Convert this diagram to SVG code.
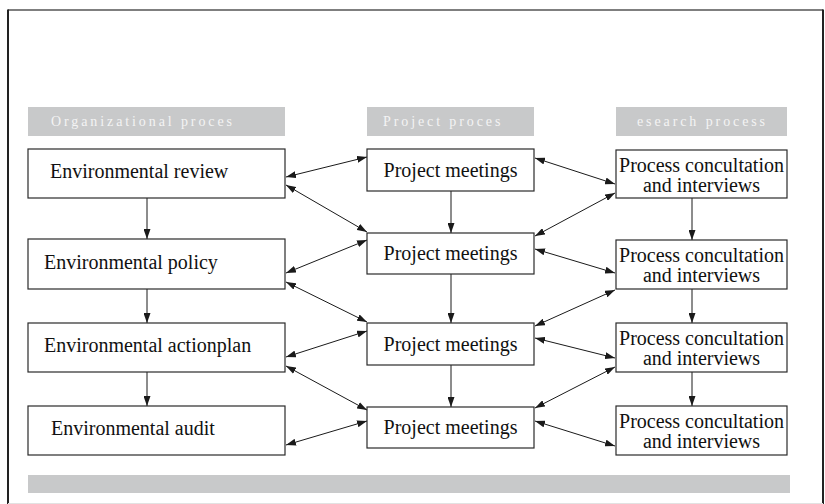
<svg xmlns="http://www.w3.org/2000/svg" width="825" height="504" viewBox="0 0 825 504">
<style>
.frame{stroke:#222;stroke-width:2;fill:none}
.bar{fill:#c8c9ca}
.hdr{font-family:"Liberation Serif","Times New Roman",serif;font-size:14px;fill:#f4f4f4;letter-spacing:2.9px}
.box{fill:#fff;stroke:#2a2a2a;stroke-width:1.2}
.t{font-family:"Liberation Serif","Times New Roman",serif;font-size:20px;fill:#111}
.c{text-anchor:middle}
.edge{stroke:#1a1a1a;stroke-width:1;fill:none}
.one{marker-end:url(#ah)}
.two{marker-start:url(#ah);marker-end:url(#ah)}
</style>
<defs>
<marker id="ah" viewBox="0 0 10 7" refX="10" refY="3.5" markerWidth="10" markerHeight="7" markerUnits="userSpaceOnUse" orient="auto-start-reverse">
<path d="M0,0 L10,3.5 L0,7 z" fill="#1a1a1a"/>
</marker>
</defs>
<rect x="0" y="0" width="825" height="504" fill="#fff"/>
<g id="frame">
<line x1="8" y1="10" x2="823" y2="10" stroke="#555" stroke-width="1.5"/>
<line x1="8" y1="9.5" x2="8" y2="504" class="frame"/>
<line x1="823" y1="9.5" x2="823" y2="504" class="frame"/>
<line x1="8" y1="503.5" x2="823" y2="503.5" stroke="#e2e2e2" stroke-width="1"/>
</g>
<g id="headers">
<rect class="bar" x="28" y="107" width="257" height="29"/>
<text class="hdr" x="51" y="126">Organizational proces</text>
<rect class="bar" x="367" y="107" width="167" height="29"/>
<text class="hdr" x="383" y="126">Project proces</text>
<rect class="bar" x="616" y="107" width="171" height="29"/>
<text class="hdr" x="637" y="126">esearch process</text>
</g>
<g id="footer"><rect class="bar" x="28" y="475" width="762" height="18"/></g>

<g id="connectors">
<line class="edge one" x1="147" y1="198" x2="147" y2="239"/>
<line class="edge one" x1="147" y1="289" x2="147" y2="323"/>
<line class="edge one" x1="147" y1="372" x2="147" y2="406"/>
<line class="edge one" x1="451" y1="191" x2="451" y2="233"/>
<line class="edge one" x1="451" y1="274" x2="451" y2="323"/>
<line class="edge one" x1="451" y1="365" x2="451" y2="407"/>
<line class="edge one" x1="692" y1="198" x2="692" y2="240"/>
<line class="edge one" x1="692" y1="289" x2="692" y2="323"/>
<line class="edge one" x1="692" y1="372" x2="692" y2="406"/>

<line class="edge two" x1="286" y1="177" x2="367" y2="157"/>
<line class="edge two" x1="286" y1="185" x2="367" y2="232"/>
<line class="edge two" x1="286" y1="273" x2="367" y2="240"/>
<line class="edge two" x1="286" y1="282" x2="367" y2="322"/>
<line class="edge two" x1="286" y1="357" x2="367" y2="331"/>
<line class="edge two" x1="286" y1="366" x2="367" y2="410"/>
<line class="edge two" x1="286" y1="445" x2="367" y2="421"/>

<line class="edge two" x1="535" y1="158" x2="615" y2="184"/>
<line class="edge two" x1="535" y1="236" x2="615" y2="193"/>
<line class="edge two" x1="535" y1="249" x2="615" y2="273"/>
<line class="edge two" x1="535" y1="326" x2="615" y2="290"/>
<line class="edge two" x1="535" y1="338" x2="615" y2="358"/>
<line class="edge two" x1="535" y1="408" x2="615" y2="367"/>
<line class="edge two" x1="535" y1="421" x2="615" y2="446"/>
</g>

<g id="env-review"><rect class="box" x="28" y="149" width="257" height="49"/><text class="t" x="50" y="178">Environmental review</text></g>
<g id="env-policy"><rect class="box" x="28" y="239" width="257" height="50"/><text class="t" x="44" y="269">Environmental policy</text></g>
<g id="env-actionplan"><rect class="box" x="28" y="323" width="257" height="49"/><text class="t" x="44" y="352">Environmental actionplan</text></g>
<g id="env-audit"><rect class="box" x="28" y="406" width="257" height="49"/><text class="t" x="51" y="435">Environmental audit</text></g>

<g id="pm1"><rect class="box" x="367" y="149" width="167" height="42"/><text class="t c" x="450.5" y="176.5">Project meetings</text></g>
<g id="pm2"><rect class="box" x="367" y="233" width="167" height="41"/><text class="t c" x="450.5" y="260">Project meetings</text></g>
<g id="pm3"><rect class="box" x="367" y="323" width="167" height="42"/><text class="t c" x="450.5" y="350.5">Project meetings</text></g>
<g id="pm4"><rect class="box" x="367" y="407" width="167" height="41"/><text class="t c" x="450.5" y="434">Project meetings</text></g>

<g id="pc1"><rect class="box" x="616" y="150" width="171" height="48"/><text class="t c" x="701.5" y="172">Process concultation</text><text class="t c" x="701.5" y="192">and interviews</text></g>
<g id="pc2"><rect class="box" x="616" y="240" width="171" height="49"/><text class="t c" x="701.5" y="262">Process concultation</text><text class="t c" x="701.5" y="282">and interviews</text></g>
<g id="pc3"><rect class="box" x="616" y="323" width="171" height="49"/><text class="t c" x="701.5" y="345">Process concultation</text><text class="t c" x="701.5" y="365">and interviews</text></g>
<g id="pc4"><rect class="box" x="616" y="406" width="171" height="49"/><text class="t c" x="701.5" y="428">Process concultation</text><text class="t c" x="701.5" y="448">and interviews</text></g>
</svg>
